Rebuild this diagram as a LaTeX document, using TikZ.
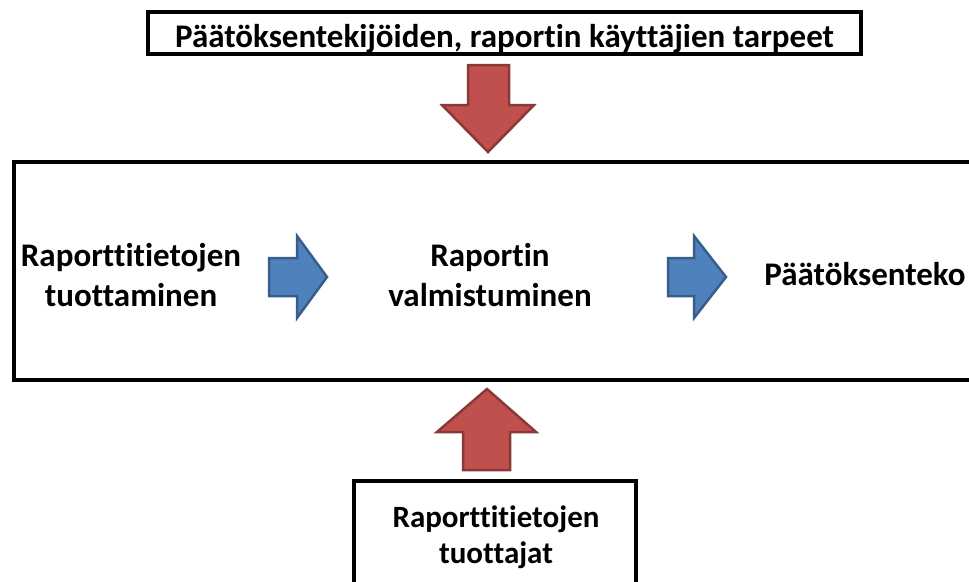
\documentclass[tikz,border=0pt]{standalone}
\usepackage{fontspec}
\setmainfont{Carlito}[Ligatures=NoCommon]
\definecolor{redfill}{RGB}{192,80,77}
\definecolor{redline}{RGB}{140,56,54}
\definecolor{bluefill}{RGB}{79,129,189}
\definecolor{blueline}{RGB}{56,93,138}
\begin{document}
\begin{tikzpicture}[x=1pt,y=-1pt,
  box/.style={draw=black,line width=4pt},
  biglbl/.style={font=\bfseries\fontsize{33}{40}\selectfont, align=center, inner sep=0pt, anchor=base},
  smalllbl/.style={font=\bfseries\fontsize{31}{36}\selectfont, align=center, inner sep=0pt, anchor=base},
  redarr/.style={fill=redfill, draw=redline, line width=2.5pt, line join=miter},
  bluearr/.style={fill=bluefill, draw=blueline, line width=2.5pt, line join=miter}]
\useasboundingbox (0,0) rectangle (969,581);
\clip (0,0) rectangle (969,581);
% top box
\node[box, font=\bfseries\fontsize{33}{40}\selectfont, inner sep=0pt, text height=28pt, text depth=0pt, minimum width=713pt, minimum height=42pt] (needs) at (504.5,33) {Päätöksentekijöiden, raportin käyttäjien tarpeet};
% main box
\draw[box] (14,162) rectangle (1000,380);
% bottom box
\draw[box] (354,481) rectangle (636,620);
\node[smalllbl] (producers) at (496,563) {Raporttitietojen\\tuottajat};
% texts in main box
\node[biglbl] (produce) at (131,306) {Raporttitietojen\\tuottaminen};
\node[biglbl] (complete) at (490,306) {Raportin\\valmistuminen};
\node[biglbl] (decision) at (865,285) {Päätöksenteko};
% red down arrow
\draw[redarr] (468,65) -- (509,65) -- (509,105) -- (534,105) -- (488,152) -- (442,105) -- (468,105) -- cycle;
% red up arrow
\draw[redarr] (463,470) -- (510,470) -- (510,432) -- (536,432) -- (487,389) -- (437,432) -- (463,432) -- cycle;
% blue arrows
\draw[bluearr] (269,258) -- (297,258) -- (297,236) -- (327,277) -- (297,318) -- (297,296) -- (269,296) -- cycle;
\draw[bluearr] (668,258) -- (694,258) -- (694,236) -- (726,277) -- (694,318) -- (694,296) -- (668,296) -- cycle;
\end{tikzpicture}
\end{document}
